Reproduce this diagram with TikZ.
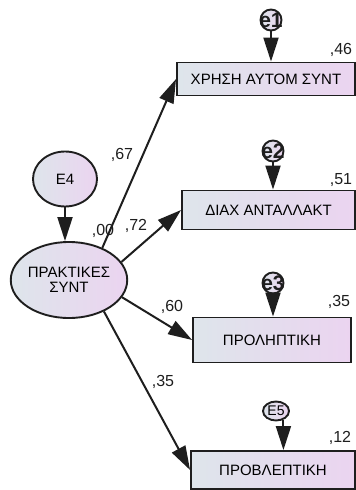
\documentclass[tikz,border=0pt]{standalone}
\usepackage{fontspec}
\setmainfont{Liberation Sans}
\usetikzlibrary{arrows.meta, shapes.geometric}
\definecolor{shadeL}{HTML}{DEE5EB}
\definecolor{shadeR}{HTML}{EBD4F0}
\definecolor{rim}{HTML}{1E1E1E}

\begin{document}
\begin{tikzpicture}[x=1pt, y=-1pt,
  obs/.style={draw=rim, line width=1.9pt, left color=shadeL, right color=shadeR, inner sep=0pt, font=\fontsize{15}{17}\selectfont},
  lat/.style={ellipse, draw=rim, line width=1.9pt, left color=shadeL, right color=shadeR, inner sep=0pt, align=center, font=\fontsize{15}{15}\selectfont},
  err/.style={circle, draw=rim, line width=1.9pt, left color=shadeL, right color=shadeR, minimum size=21pt, inner sep=0pt},
  errtxt/.style={font=\fontsize{21}{21}\selectfont\bfseries, text=rim},
  reg/.style={draw=rim, line width=2pt, -{Triangle[length=24pt, width=15pt]}},
  coef/.style={font=\fontsize{16}{18}\selectfont, text=rim},
]
\useasboundingbox (0,0) rectangle (356,490);

% observed indicators
\node[obs, minimum width=178pt, minimum height=33pt] (xrisi) at (266,79) {ΧΡΗΣΗ ΑΥΤΟΜ ΣΥΝΤ};
\node[obs, minimum width=173pt, minimum height=39pt] (diax) at (268.5,210) {ΔΙΑΧ ΑΝΤΑΛΛΑΚΤ};
\node[obs, minimum width=158pt, minimum height=45pt] (prol) at (272,340) {ΠΡΟΛΗΠΤΙΚΗ};
\node[obs, minimum width=164pt, minimum height=38pt] (provl) at (273,470) {ΠΡΟΒΛΕΠΤΙΚΗ};

% latent factor and its disturbance
\node[lat, minimum width=114pt, minimum height=76pt] (prakt) at (69,280) {ΠΡΑΚΤΙΚΕΣ\\ΣΥΝΤ};
\node[lat, minimum width=64pt, minimum height=55pt] (E4) at (65,179) {E4};

% error terms
\node[err] (e1) at (271,20) {};
\node[errtxt] at (e1) {e1};
\node[err] (e2) at (273,151) {};
\node[errtxt] at (e2) {e2};
\node[err] (e3) at (273,283) {};
\node[errtxt] at (e3) {e3};
\node[lat, minimum width=26pt, minimum height=19pt, font=\fontsize{14}{14}\selectfont] (E5) at (276,411) {E5};

% paths
\draw[reg] (E4) -- (E4 |- prakt.north);
\draw[reg] (prakt.44) -- (xrisi.west);
\draw[reg] (prakt.19) -- (diax.west);
\draw[reg] (prakt.-18) -- (prol.west);
\draw[reg] (prakt.-42) -- (provl.west);
\draw[reg] (e1) -- (e1 |- xrisi.north);
\draw[reg] (e2) -- (e2 |- diax.north);
\draw[reg] (e3) -- (e3 |- prol.north);
\draw[reg] (E5.-50) -- (E5.-50 |- provl.north);

% loadings
\node[coef] (l1) at (122,155) {,67};
\node[coef] (l2) at (136,226) {,72};
\node[coef] (l3) at (172,307) {,60};
\node[coef] (l4) at (163,382) {,35};

% squared multiple correlations
\node[coef] (r0) at (103,231) {,00};
\node[coef] (r1) at (341,50) {,46};
\node[coef] (r2) at (341,180) {,51};
\node[coef] (r3) at (339,302) {,35};
\node[coef] (r4) at (340,438) {,12};
\end{tikzpicture}
\end{document}
